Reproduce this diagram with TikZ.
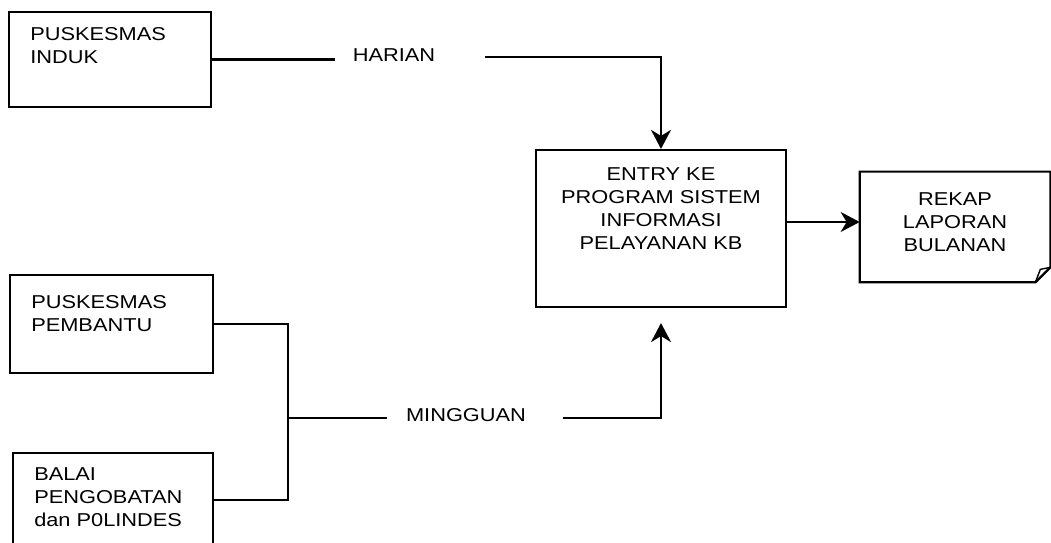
\documentclass[tikz,border=0pt]{standalone}
\usepackage{fontspec}
\setmainfont[FakeStretch=1.17]{Liberation Sans}
\usetikzlibrary{arrows.meta,positioning}
\newcommand{\diagfont}{\fontsize{10.6}{13.1}\selectfont}
\tikzset{
  box/.style={draw, line width=1.25pt, inner sep=0pt},
  srcbox/.style={box, minimum width=4.04cm, minimum height=1.92cm},
  txt/.style={inner sep=0pt, align=left, font=\diagfont},
  ctxt/.style={txt, align=center},
  link/.style={line width=1.25pt},
  flow/.style={link, -{Stealth[length=3.8mm, width=4mm, inset=1.2mm]}},
}

\begin{document}
\begin{tikzpicture}
  \useasboundingbox (0,0) rectangle (21.02,10.86);
  \clip (0,0) rectangle (21.02,10.86);
  % sources
  \node[srcbox, minimum height=1.90cm] (induk) at (2.20,9.67) {};
  \node[txt, below right=0.32cm and 0.44cm of induk.north west] (induk-t) {PUSKESMAS\\INDUK};
  \node[srcbox, minimum width=4.06cm, minimum height=1.96cm] (pembantu) at (2.23,4.38) {};
  \node[txt, below right=0.42cm and 0.44cm of pembantu.north west] (pembantu-t) {PUSKESMAS\\PEMBANTU};
  \node[srcbox, minimum width=4.00cm, minimum height=1.88cm] (balai) at (2.26,0.86) {};
  \node[txt, below right=0.30cm and 0.44cm of balai.north west] (balai-t) {BALAI\\PENGOBATAN\\dan P0LINDES};
  % entry and report
  \node[box, minimum width=5.00cm, minimum height=3.14cm] (entry) at (13.22,6.29) {};
  \node[ctxt, below=0.36cm of entry.north] (entry-t) {ENTRY KE\\PROGRAM SISTEM\\INFORMASI\\PELAYANAN KB};
  \node[inner sep=0pt, minimum width=3.80cm, minimum height=2.20cm] (rekap) at (19.10,6.32) {};
  \node[ctxt, below=0.42cm of rekap.north] (rekap-t) {REKAP\\LAPORAN\\BULANAN};
  \draw[link] (rekap.north west) -- (rekap.north east) -- ([yshift=0.30cm]rekap.south east)
    -- ([xshift=-0.30cm]rekap.south east) -- (rekap.south west) -- cycle;
  \draw[link, line width=0.8pt] ([xshift=-0.30cm]rekap.south east) -- ([xshift=-0.20cm, yshift=0.26cm]rekap.south east)
    -- ([yshift=0.30cm]rekap.south east);
  % daily
  \node[txt] (harian) at (7.88,9.76) {HARIAN};
  \coordinate (h-l) at (6.70,9.67);
  \coordinate (h-r) at (9.70,9.72);
  \draw[link] (induk.east) -- (h-l);
  \draw[flow] (h-r) -| (entry.north);
  % weekly
  \node[txt] (minggu) at (9.32,2.56) {MINGGUAN};
  \coordinate (join) at (5.76,2.50);
  \coordinate (m-l) at (7.74,2.50);
  \coordinate (m-r) at (11.26,2.50);
  \draw[link] (pembantu.east) -| (join) |- (balai.east);
  \draw[link] (join) -- (m-l);
  \draw[flow] (m-r) -| ([yshift=-0.30cm]entry.south);
  % monthly
  \draw[flow] ([yshift=0.13cm]entry.east) -- ([yshift=0.13cm]entry.east -| rekap.west);
\end{tikzpicture}
\end{document}
